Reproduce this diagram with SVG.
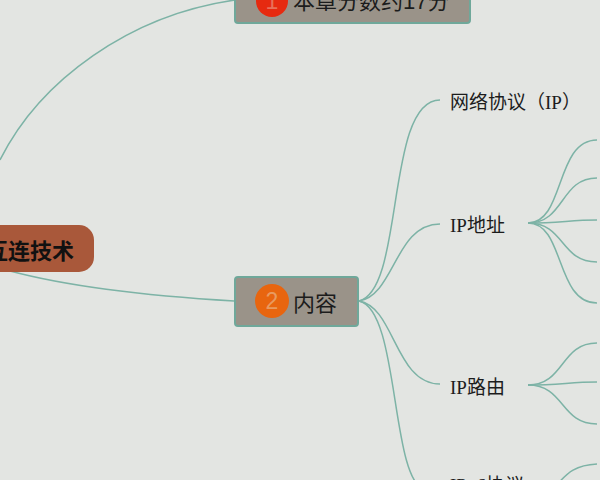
<svg xmlns="http://www.w3.org/2000/svg" width="600" height="480" viewBox="0 0 600 480">
<style>
text{font-family:"Liberation Serif","Noto Sans CJK SC",serif;fill:#1c1c1c}
.c{fill:none;stroke:#7db3a6;stroke-width:1.5}
.t{fill:#9a9389;stroke:#6fa89a;stroke-width:2}
.s{font-size:19px}
.m{font-family:"Liberation Sans","Noto Sans CJK SC",sans-serif;font-size:22px}
.b{font-family:"Liberation Sans","Noto Sans CJK SC",sans-serif;font-size:22px;font-weight:700;fill:#111}
.n{font-family:"Liberation Sans",sans-serif;font-size:23px}
</style>
<rect width="600" height="480" fill="#e3e5e2"/>
<g id="connectors">
<path class="c" d="M0 160C40 80 130 15 235 0"/>
<path class="c" d="M10 271C70 287 150 296 234 301"/>
<path class="c" d="M359 301C405 290 385 100 440 100"/>
<path class="c" d="M359 301C395 295 395 224 440 224"/>
<path class="c" d="M359 301C395 307 395 384 440 384"/>
<path class="c" d="M359 301C400 310 390 480 425 490"/>
<path class="c" d="M528 223C565 223 555 140 597 140"/>
<path class="c" d="M528 223C565 223 560 178 597 178"/>
<path class="c" d="M528 223C560 223 570 220 597 220"/>
<path class="c" d="M528 223C565 223 560 262 597 262"/>
<path class="c" d="M528 223C565 223 555 303 597 303"/>
<path class="c" d="M528 385C565 385 560 343 597 343"/>
<path class="c" d="M528 385C560 385 570 382 597 382"/>
<path class="c" d="M528 385C565 385 560 424 597 424"/>
<path class="c" d="M528 498C565 495 555 466 597 464"/>
</g>
<g id="root"><rect x="-60" y="225" width="154" height="47" rx="15" fill="#a9583a"/><text class="b" x="74" y="259" text-anchor="end">互连技术</text></g>
<g id="n1"><rect class="t" x="235" y="-26" width="235" height="49" rx="3"/><circle cx="272" cy="1" r="16" fill="#e62a10"/><text class="n" x="272" y="9" text-anchor="middle" style="fill:#e8705a">1</text><text class="m" x="293" y="9">本章分数约17分</text></g>
<g id="n2"><rect class="t" x="235" y="277" width="123" height="49" rx="3"/><circle cx="272" cy="301" r="17" fill="#e8650f"/><text class="n" x="272" y="309" text-anchor="middle" style="fill:#e89a60">2</text><text class="m" x="293" y="311">内容</text></g>
<g id="a"><text class="s" x="450" y="109">网络协议（IP）</text></g>
<g id="b"><text class="s" x="450" y="232">IP地址</text></g>
<g id="c"><text class="s" x="450" y="394">IP路由</text></g>
<g id="d"><text class="s" x="450" y="492">IPv6协议</text></g>
</svg>
